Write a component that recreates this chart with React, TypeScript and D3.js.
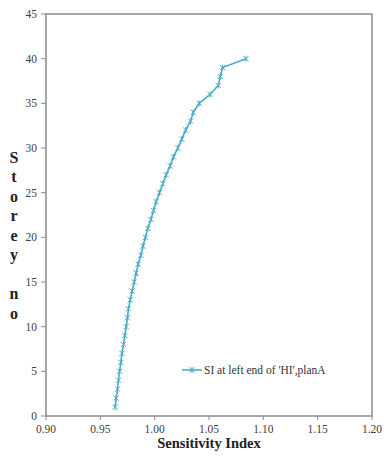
import React from "react";
import * as d3 from "d3";

const storeys = [1,2,3,4,5,6,7,8,9,10,11,12,13,14,15,16,17,18,19,20,21,22,23,24,25,26,27,28,29,30,31,32,33,34,35,36,37,38,39,40];
const siValues = [0.9637,0.9646,0.9658,0.9667,0.9677,0.9689,0.9699,0.9713,0.9726,0.9738,0.975,0.9759,0.9775,0.9793,0.9812,0.983,0.9848,0.9873,0.9892,0.9915,0.9937,0.9965,0.999,1.0014,1.0044,1.0075,1.0106,1.0142,1.0173,1.0213,1.025,1.0285,1.033,1.0355,1.041,1.051,1.0585,1.0604,1.0625,1.084];
const xTicks = [0.9,0.95,1.0,1.05,1.1,1.15,1.2];
const yTicks = [0,5,10,15,20,25,30,35,40,45];
const seriesName = "SI at left end of 'HI',planA";
const xTitle = "Sensitivity Index";
const yTitle = "Storey no";

export default function App() {
  const W = 384, H = 459;
  const left = 46, right = 372, top = 14, bottom = 416;
  const x = d3.scaleLinear().domain([0.9, 1.2]).range([left, right]);
  const y = d3.scaleLinear().domain([0, 45]).range([bottom, top]);
  const pts = storeys.map((s, i) => [x(siValues[i]), y(s)] as [number, number]);
  const line = d3.line()(pts) || "";
  const color = "#4bacc6";
  const font = "'Liberation Serif','Times New Roman',serif";
  const axisColor = "#8c8c8c";
  const marker = (cx: number, cy: number, k: string | number) => {
    const r = 2.6;
    return (
      <g key={k} stroke={color} strokeWidth={1}>
        <line x1={cx - r} y1={cy - r} x2={cx + r} y2={cy + r} />
        <line x1={cx - r} y1={cy + r} x2={cx + r} y2={cy - r} />
        <line x1={cx} y1={cy - r - 0.5} x2={cx} y2={cy + r + 0.5} />
      </g>
    );
  };
  const letters = yTitle.split("");
  let cy = 157;
  const letterPos: { ch: string; y: number }[] = [];
  letters.forEach((ch) => {
    if (ch === " ") { cy += 19.5; return; }
    letterPos.push({ ch, y: cy });
    cy += 19.5;
  });
  return (
    <svg width={W} height={H} style={{ position: "absolute", left: 0, top: 0, background: "#fff" }}>
      <rect x={left} y={top} width={right - left} height={bottom - top} fill="none" stroke={axisColor} strokeWidth={1.5} />
      {yTicks.map((t) => (
        <g key={"y" + t}>
          <line x1={left - 5} x2={left} y1={y(t)} y2={y(t)} stroke={axisColor} strokeWidth={1} />
          <text x={37} y={y(t)} dy="0.35em" textAnchor="end" fontFamily={font} fontSize={11.5} fill="#404040">{t}</text>
        </g>
      ))}
      {xTicks.map((t) => (
        <g key={"x" + t}>
          <line x1={x(t)} x2={x(t)} y1={bottom} y2={bottom + 4} stroke={axisColor} strokeWidth={1} />
          <text x={x(t)} y={433} textAnchor="middle" fontFamily={font} fontSize={11.5} fill="#404040">{t.toFixed(2)}</text>
        </g>
      ))}
      <text x={209} y={448} textAnchor="middle" fontFamily={font} fontSize={14.5} fontWeight="bold" fill="#222">{xTitle}</text>
      {letterPos.map((l, i) => (
        <text key={"l" + i} x={14} y={l.y} dy="0.35em" textAnchor="middle" fontFamily={font} fontSize={16} fontWeight="bold" fill="#222">{l.ch}</text>
      ))}
      <path d={line} fill="none" stroke={color} strokeWidth={1.6} />
      {pts.map((p, i) => marker(p[0], p[1], i))}
      <line x1={182} x2={202} y1={370} y2={370} stroke={color} strokeWidth={1.6} />
      {marker(192, 370, "leg")}
      <text x={204} y={373.5} fontFamily={font} fontSize={11.5} fill="#333">{seriesName}</text>
    </svg>
  );
}
